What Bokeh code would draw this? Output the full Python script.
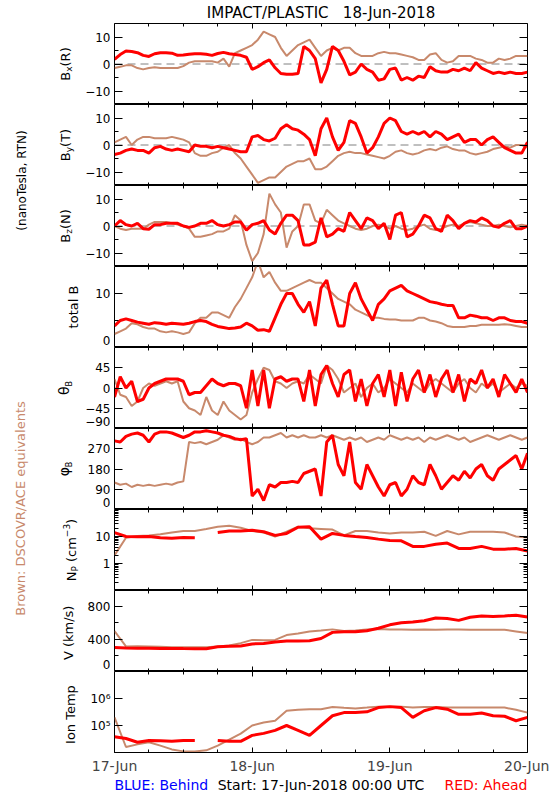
import numpy as np
from bokeh.plotting import figure
from bokeh.layouts import row, column
from bokeh.models import (Range1d, LinearAxis, FixedTicker, Label, Span,
                          ColumnDataSource, CustomJSTickFormatter)
from bokeh.embed import file_html
from bokeh.resources import INLINE

FONT = "DejaVu Sans"
RED = "#ff0000"
BROWN = "#c8896c"
BLUE = "#0000ff"
NAN = float("nan")

TITLE = "IMPACT/PLASTIC\u00a0\u00a0\u00a018-Jun-2018"

# ---------------- data (hours since 17-Jun-2018 00:00 UTC) ----------------
hours = list(range(73))
hours2 = list(range(0, 73, 2))

bx_red = [1.7, 3.5, 4.8, 4.6, 4.2, 3.2, 2.8, 3.8, 4.2, 4.2, 4.0, 3.2, 3.3, 3.6, 3.8, 3.8, 3.6, 3.2, 3.9, 4.3,
          3.8, 3.5, 3.2, 2.5, -2.0, -1.0, 0.5, 1.5, -1.4, -3.5, -3.8, -3.8, -3.5, 6.5, 5.0, 2.0,
          -7, -2, 6.5, 5, 1, -4, -3, 0, -2, -3, -6, -5.5, -2, -1.5, -6, -5, -6, -4.5, -5, -1, -2.5, -3, -3,
          -2, -2.5, -1.5, -2.5, 0.5, -1.5, -2.5, -3.5, -3, -3.5, -3, -3.5, -3.5, -3]
bx_brown = [-1.5, -1, -0.5, -0.5, -1.5, -2, -1.5, -1.2, -1.5, -1.5, -1.5, -1.5, -0.8, 0.5, 1, 1, 1, 1, 0.5, 2,
            -1, 4, 5, 6, 7, 9, 12, 11, 10, 6, 3, 5, 7, 8, 9, 6, 3,
            5, 6, 5, 6, 6, 4, 3, 3, 3, 4, 4.5, 4, 4, 3.5, 3, 2.5, 1.5, 1.5, 3.5, 4, 1.5, 0.5, 1, 3, 3, 3, 2,
            1.5, 0.5, 0.5, 2, 1.5, 2, 3, 3, 3]
by_red = [-3.5, -3, -2, -1.5, -2, -2, -3, -1, -0.5, -1.5, -2, -1.5, -2, -2.5, 0, -0.5, -0.5, -1, -0.5, -1,
          -1.5, -2, -2.5, -2.5, 3, 3.5, 2, 1.5, 2.5, 6, 7.5, 6, 5.5, 4, 2, -4, 6,
          10, 3, -2, 1, 9, 8, 3, -3, -1, 3, 8, 10, 9, 5, 4, 5, 4, 5, 3, 5, 4, 2, 3, 4, 1, 2, 2, 0, 2, 3, 1,
          -1, -2, -3, -3, 1]
by_brown = [1, 2, 3, 0, 2, 3, 3, 2.5, 2.5, 2.5, 3, 2.5, 2, 1, -3, -4, -4, -3, -2.5, -1, 0, -3, -5, -8, -11,
            -14, -13, -12, -12, -10, -8, -7, -6, -6, -5, -9, -9,
            -8, -6, -4, -3, -2.5, -3, -3, -3.5, -4, -4.5, -5, -4, -2.5, -2, -3, -3.5, -3, -2, -1.5, -2, -1,
            -0.5, -1.5, -2, -2, -3, -3.5, -3, -2.5, -1.5, -1, -0.5, -1, 0, 0, -1]
bz_red = [0, 2, 0.5, 0, 1, -1, -1.2, 0.5, 0.5, 1, 1, 1, 0, -0.5, 0, 1, 1, 2, 0.5, 0, 0.5, 1.5, 1.5, -1.5,
          0.5, 1, 2, -1.5, -3, 1, 4, 4, 2, -7, -7, -6, 3,
          -4, -3, -1, -2, 5, 2, -1, 3, 2, -1, 1, -5, 4, 5, -4, -3, 0, 4, 3, -1, -2, 4, 2, -1, 1, 2, 1.5, 3,
          2, 0, -0.5, 1, 2, -1, -1, 0]
bz_brown = [0, -1, -1.5, -1, -1, -1, 0.5, 1.5, 1.5, 1.5, 1, 0.5, 0, -1, -4, -4, -3.5, -3, -2, -2, -1, 4, 2,
            -7, -13, -10, -3, 12, 8, 5, -8, -2, 0, 8, 8, 2, 1,
            6, 4, 2, 1, 0, -1, -1.5, -1, 0, 0.5, 0, -1, 0, -1, -1.5, -1, 0, 0.5, -1, -1.5, -1, 0, 0.5, 0, 1,
            1.5, 1, 0.5, 0, 0, 0.5, 0, -0.5, 0, 0.5, 0]
bt_red = [4, 5, 5.3, 5, 4.7, 4.5, 4.3, 4.6, 4.5, 4.3, 4.5, 4.4, 4.3, 4.5, 4.8, 5, 4.8, 4.3, 3.9, 3.7, 3.5,
          3.6, 3.8, 4.5, 4, 3.2, 3.3, 3, 5.5, 8, 10, 10, 8, 6.5, 8.5, 4, 11,
          12.5, 8, 4, 4, 10, 12, 9, 7, 5, 8, 9, 10.5, 11, 11.5, 10.5, 10, 9.5, 9, 8.5, 8.3, 8, 7.8, 7.8,
          5.5, 5.5, 6, 5.8, 5.5, 5.5, 5, 5.5, 5.5, 5, 4.8, 4.8, 4.5]
bt_brown = [2.5, 3, 3.5, 4.5, 4.3, 3.8, 3.5, 3.5, 3, 2.8, 3, 2.8, 2.5, 2.8, 4.5, 5.5, 5.5, 6.5, 6.5, 6, 5.5,
            7.5, 9, 11, 13, 16, 13, 14, 12, 10.5, 10.5, 11, 11.5, 12, 12.5, 12, 12,
            11, 10, 9, 8.5, 8, 7, 6.5, 6, 5.5, 5.5, 5.3, 5.2, 5.2, 5, 5, 5, 5.5, 5.5, 5, 4.8, 4.5, 4, 3.8,
            3.8, 3.8, 4, 4, 4.2, 4.2, 4.2, 4.2, 4.3, 4.2, 4, 3.8, 3.8]
th_red = [-20, 25, 0, 15, -30, -25, 0, 10, 15, 20, 20, 20, 15, -15, -10, -10, 5, 20, 10, 5, 10, 10, 5, -45,
          40, -40, 40, -45, 20, 25, 15, 20, 20,
          -30, 40, -40, 30, 50, 10, -20, 30, 40, -30, 20, -40, 10, 30, -20, 40, -40, 35, -30, 20, 40, -10,
          30, -20, 20, 40, -10, 30, -30, 20, 10, 40, 0, 20, -20, 30, 10, -10, 20, -10]
th_brown = [20, -15, -20, -40, -30, 0, 10, 5, 10, 15, 10, 15, -30, -45, -50, -60, -20, -50, -60, -30, -50,
            -60, -70, -60, -10, 20, 45, 40, 15, 10, 0, 10, 15,
            10, 30, 20, 10, 50, 40, 20, -10, 0, 10, -20, 0, 10, -10, 0, 20, 10, 0, -10, 10, 0, -10, 10, 20,
            10, 0, -10, 10, 20, 0, -10, 10, 0, 10, -10, 0, 10, 0, 10, 5]
ph_red = [305, 300, 325, 335, 340, 330, 300, 335, 345, 345, 340, 330, 320, 330, 345, 345, 350, 345, 340,
          330, 325, 315, 310, 315,
          60, 90, 40, 110, 100, 120, 120, 125, 120, 160, 170, 180, 60, 300, 330, 200, 150, 300, 120, 90,
          200, 150, 100, 60, 110, 120, 60, 90, 150, 120, 110, 200, 150, 90, 120, 150, 130, 170, 140, 180,
          200, 150, 130, 180, 200, 220, 240, 180, 250]
ph_brown = [120, 110, 115, 100, 110, 105, 110, 105, 110, 115, 110, 120, 125, 300, 295, 300, 290, 300, 310,
            330, 320, 310, 315, 300, 290, 300, 320, 320, 330, 340, 320, 330, 320, 330, 320, 320, 330, 320,
            330, 320, 310, 320, 310, 320, 300, 310, 320, 310, 330, 320, 310, 320, 310, 320, 300, 320, 310,
            320, 330, 320, 310, 320, 300, 310, 320, 330, 320, 310, 320, 330, 320, 310, 320]
np_red = [14, 10, 9.7, 10, 9, 8.7, 9.2, 9, NAN, 14, 16, 16, 17, 15, 11, 13, 22, 23, 8, 13, 11, 10, 9.2, 8,
          7.1, 6.9, 4.3, 4.3, 5.2, 5.7, 3.6, 3.6, 4.3, 3.4, 3.4, 3.6, 2.9]
np_brown = [2, 9, 10.5, 11, 12, 14, 16, 16, 19, 23, 25, 21, 16, 14, 10, 15, 23, 20, 19, 18, 11, 16, 16, 14,
            13, 14, 14, 15, 10.5, 16, 12, 15, 15, 15, 14, 10, 9.2]
v_red = [295, 290, 288, 287, 285, 285, 283, 282, 282, 305, 313, 315, 340, 347, 364, 377, 377, 380, 407, 483,
         491, 491, 504, 534, 576, 602, 610, 627, 661, 653, 631, 669, 686, 678, 686, 695, 674]
v_brown = [500, 310, 312, 310, 305, 300, 298, 298, 300, 310, 320, 350, 390, 385, 390, 450, 470, 495, 505, 520,
           500, 505, 520, 525, 520, 518, 515, 520, 515, 520, 518, 515, 515, 515, 515, 495, 475]
t_red = [3.8e4, 3.3e4, 2.4e4, 2.8e4, 2.7e4, 2.6e4, 2.8e4, 2.8e4, NAN, 2.8e4, 2.6e4, 2.6e4, 4.3e4, 5.1e4,
         6.6e4, 1e5, 6.6e4, 4.3e4, 1e5, 2.3e5, 3e5, 3e5, 3.2e5, 4.6e5, 5e5, 4.6e5, 2e5, 3.5e5, 4.6e5, 4e5,
         2.6e5, 2.6e5, 2.9e5, 2.3e5, 2.2e5, 1.5e5, 2e5]
t_brown = [2e5, 1.6e4, 2e4, 2.4e4, 1.8e4, 1.3e4, 1.1e4, 1.1e4, 1.2e4, 1.8e4, 3e4, 5e4, 1e5, 1.3e5, 1.5e5,
           3.5e5, 3.8e5, 4e5, 4e5, 4.8e5, 4.5e5, 4.3e5, 4.6e5, 5e5, 5e5, 5e5, 4.6e5, 4.8e5, 4.8e5, 4.6e5,
           4.6e5, 4.6e5, 4.6e5, 4.6e5, 4.6e5, 3.8e5, 3e5]

# ---------------- ticks / labels ----------------
day_ticks = [0, 24, 48, 72]
day_labels = ["17-Jun", "18-Jun", "19-Jun", "20-Jun"]
six_hour_ticks = [6, 12, 18, 30, 36, 42, 54, 60, 66]

b_ticks, b_labels, b_minor = [-10, 0, 10], ["\u221210", "0", "10"], [-15, -5, 5, 15]
bt_ticks, bt_labels, bt_minor = [0, 10], ["", "10"], [5, 15]
th_ticks, th_labels = [-90, -45, 0, 45, 90], ["", "\u221245", "0", "45", ""]
ph_ticks, ph_labels = [0, 90, 180, 270, 360], ["", "90", "180", "270", ""]
np_ticks, np_labels = [0.1, 1, 10, 100], ["", "1", "10", ""]
np_minor = [0.2, 0.3, 0.4, 0.5, 0.6, 0.7, 0.8, 0.9, 2, 3, 4, 5, 6, 7, 8, 9, 20, 30, 40, 50, 60, 70, 80, 90]
v_ticks, v_labels, v_minor = [0, 400, 800], ["", "400", "800"], [200, 600, 1000]
t_ticks, t_labels = [1e4, 1e5, 1e6, 1e7], ["", "10\u2075", "10\u2076", ""]

panels = [
    dict(lo=-15, hi=15, log=False, ticks=b_ticks, labels=b_labels, minor=b_minor, x=hours,
         red=bx_red, brown=bx_brown, zero=True, edge=None,
         ylab=[("B", 13, 0, 0), ("x", 9, 3, 0), ("(R)", 13, 0, 0)], base=65),
    dict(lo=-15, hi=15, log=False, ticks=b_ticks, labels=b_labels, minor=b_minor, x=hours,
         red=by_red, brown=by_brown, zero=True, edge=None,
         ylab=[("B", 13, 0, 0), ("y", 9, 3, 0), ("(T)", 13, 0, 0)], base=65),
    dict(lo=-15, hi=15, log=False, ticks=b_ticks, labels=b_labels, minor=b_minor, x=hours,
         red=bz_red, brown=bz_brown, zero=True, edge=None,
         ylab=[("B", 13, 0, 0), ("z", 9, 3, 0), ("(N)", 13, 0, 0)], base=65),
    dict(lo=0, hi=15, log=False, ticks=bt_ticks, labels=bt_labels, minor=bt_minor, x=hours,
         red=bt_red, brown=bt_brown, zero=False, edge="0",
         ylab=[("total B", 13, 0, 0)], base=73),
    dict(lo=-90, hi=90, log=False, ticks=th_ticks, labels=th_labels, minor=[], x=hours,
         red=th_red, brown=th_brown, zero=False, edge="\u221290",
         ylab=[("\u03b8", 14, 0, 0), ("B", 8, 6, 0)], base=63),
    dict(lo=0, hi=360, log=False, ticks=ph_ticks, labels=ph_labels, minor=[], x=hours,
         red=ph_red, brown=ph_brown, zero=False, edge="0",
         ylab=[("\u03c6", 14, 0, 0), ("B", 8, 6, 0)], base=63),
    dict(lo=0.1, hi=100, log=True, ticks=np_ticks, labels=np_labels, minor=np_minor, x=hours2,
         red=np_red, brown=np_brown, zero=False, edge=None,
         ylab=[("N", 13, 0, 0), ("P", 9, 3, 0), ("(cm", 13, 0, 4), ("\u22123", 9, -5, 0), (")", 13, 0, 0)],
         base=71),
    dict(lo=0, hi=1000, log=False, ticks=v_ticks, labels=v_labels, minor=v_minor, x=hours2,
         red=v_red, brown=v_brown, zero=False, edge="0",
         ylab=[("V (km/s)", 13, 0, 0)], base=68),
    dict(lo=1e4, hi=1e7, log=True, ticks=t_ticks, labels=t_labels, minor=[], x=hours2,
         red=t_red, brown=t_brown, zero=False, edge=None,
         ylab=[("Ion Temp", 13, 0, 0)], base=70),
]

# ---------------- layout constants (page pixels) ----------------
FW, FH = 413, 81
LEFT_W = 82          # left label strip: x 0..82
BL, BR = 30, 24      # frame from x=112 to x=525
TITLE_H = 23         # first frame top at y=23
BOTTOM_TXT_H = 16
TOP = TITLE_H
EDGE_LIFT_PX = 7     # bottom-edge tick labels are raised to stay inside their panel

xr = Range1d(0, 72)
blank = CustomJSTickFormatter(code="return ''")


def style_axis(ax, maj, mino):
    ax.major_tick_in = maj
    ax.major_tick_out = 0
    ax.minor_tick_in = mino
    ax.minor_tick_out = 0
    ax.axis_line_color = "black"
    ax.major_tick_line_color = "black"
    ax.minor_tick_line_color = "black"


def make_panel(spec, first=False, last=False):
    lo, hi = spec["lo"], spec["hi"]
    p = figure(frame_width=FW, frame_height=FH, x_range=xr, y_range=Range1d(lo, hi),
               y_axis_type="log" if spec["log"] else "linear",
               x_axis_location="below" if last else None,
               output_backend="svg", toolbar_location=None,
               min_border_left=BL, min_border_right=BR,
               min_border_top=TITLE_H if first else 0, min_border_bottom=0,
               background_fill_color="white", border_fill_color="white")
    p.grid.visible = False
    p.outline_line_color = "black"
    p.outline_line_width = 1
    if first:
        p.title.text = TITLE
        p.title.align = "center"
        p.title.text_font = FONT
        p.title.text_font_size = "15px"
        p.title.text_font_style = "normal"
        p.title.text_color = "black"
        p.title.standoff = 3
        p.title.offset = 0

    # left axis: labels only (the bottom-edge label is lifted a few pixels into the panel)
    lab_ticks = list(spec["ticks"])
    lab_text = list(spec["labels"])
    if spec["edge"]:
        lift = lo + (hi - lo) * EDGE_LIFT_PX / FH
        lab_ticks.append(lift)
        lab_text.append(spec["edge"])
    yax = p.left[0]
    yax.ticker = FixedTicker(ticks=lab_ticks, minor_ticks=[])
    yax.major_label_overrides = {t: l for t, l in zip(lab_ticks, lab_text)}
    yax.major_label_text_font = FONT
    yax.major_label_text_font_size = "12px"
    yax.major_label_text_color = "black"
    yax.major_label_standoff = 4
    yax.major_tick_in = 0
    yax.major_tick_out = 0
    yax.minor_tick_in = 0
    yax.minor_tick_out = 0
    yax.axis_line_color = None
    yax.major_tick_line_color = None
    yax.minor_tick_line_color = None

    # inward tick marks on all four sides
    for side, loc in (("left", 0), ("right", 72)):
        ax = LinearAxis(ticker=FixedTicker(ticks=spec["ticks"], minor_ticks=spec["minor"]),
                        formatter=blank, fixed_location=loc)
        style_axis(ax, 8, 4)
        p.add_layout(ax, side)

    xt = FixedTicker(ticks=day_ticks, minor_ticks=six_hour_ticks)
    tax = LinearAxis(ticker=xt, formatter=blank, fixed_location=hi)
    style_axis(tax, 5, 3)
    p.add_layout(tax, "above")
    if last:
        bax = p.below[0]
        bax.ticker = xt
        bax.major_label_overrides = {t: l for t, l in zip(day_ticks, day_labels)}
        bax.major_label_text_font = FONT
        bax.major_label_text_font_size = "14px"
        bax.major_label_standoff = 5
        style_axis(bax, 5, 3)
    else:
        bax = LinearAxis(ticker=xt, formatter=blank, fixed_location=lo)
        style_axis(bax, 5, 3)
        p.add_layout(bax, "below")

    if spec["zero"]:
        p.add_layout(Span(location=0, dimension="width", line_color="#808080",
                          line_dash="8 5", line_width=1, level="underlay"))

    src = ColumnDataSource(dict(x=np.array(spec["x"], dtype=float),
                                red=np.array(spec["red"], dtype=float),
                                brown=np.array(spec["brown"], dtype=float)))
    p.line("x", "brown", source=src, line_color=BROWN, line_width=2)
    p.line("x", "red", source=src, line_color=RED, line_width=3)
    return p


panel_figs = [make_panel(s, first=(i == 0), last=(i == len(panels) - 1)) for i, s in enumerate(panels)]

# bottom texts
bottom_fig = figure(frame_width=FW, frame_height=BOTTOM_TXT_H, x_range=xr, y_range=Range1d(0, 1),
                    x_axis_location=None, y_axis_location=None, output_backend="svg",
                    toolbar_location=None, min_border_left=BL, min_border_right=BR,
                    min_border_top=0, min_border_bottom=0)
bottom_fig.grid.visible = False
bottom_fig.outline_line_color = None
for xx, txt, al, col in [(0, "BLUE: Behind", "left", BLUE),
                         (36, "Start: 17-Jun-2018 00:00 UTC", "center", "black"),
                         (72, "RED: Ahead", "right", RED)]:
    bottom_fig.add_layout(Label(x=xx, y=0.5, text=txt, text_align=al, text_baseline="middle",
                                text_font=FONT, text_font_size="14px", text_color=col))

# left strip with rotated labels (its data coordinates are page pixels)
TOTAL_H = 791
left_fig = figure(frame_width=LEFT_W, frame_height=TOTAL_H, x_range=Range1d(0, LEFT_W),
                  y_range=Range1d(TOTAL_H, 0), x_axis_location=None, y_axis_location=None,
                  output_backend="svg", toolbar_location=None, min_border=0)
left_fig.grid.visible = False
left_fig.outline_line_color = None

W = {"B": .686, "x": .592, "y": .592, "z": .525, "(": .39, ")": .39, "R": .695, "T": .611, "N": .748,
     "P": .603, " ": .318, "c": .55, "m": .974, "\u2212": .838, "3": .636, "\u03b8": .602, "\u03c6": .652,
     "t": .392, "o": .612, "a": .613, "l": .278}


def tw(s, px):
    return sum(W.get(ch, .6) for ch in s) * px


for i, s in enumerate(panels):
    cy = TOP + FH * i + FH / 2
    total = sum(tw(t, px) + gap for t, px, dx, gap in s["ylab"])
    y = cy + total / 2
    for t, px, dx, gap in s["ylab"]:
        y -= gap
        left_fig.add_layout(Label(x=s["base"] + dx, y=y, text=t, angle=90, angle_units="deg",
                                  text_align="left", text_baseline="alphabetic",
                                  text_font=FONT, text_font_size=f"{px}px", text_color="black"))
        y -= tw(t, px)

left_fig.add_layout(Label(x=21, y=180, text="(nanoTesla, RTN)", angle=90, angle_units="deg",
                          text_align="center", text_baseline="middle", text_font=FONT,
                          text_font_size="12px", text_color="black"))
left_fig.add_layout(Label(x=20, y=508, text="Brown: DSCOVR/ACE equivalents", angle=90,
                          angle_units="deg", text_align="center", text_baseline="middle",
                          text_font=FONT, text_font_size="13px", text_color=BROWN))

layout = row(left_fig, column(*panel_figs, bottom_fig, spacing=0), spacing=0)

open("out.html", "w").write(file_html(layout, INLINE))
